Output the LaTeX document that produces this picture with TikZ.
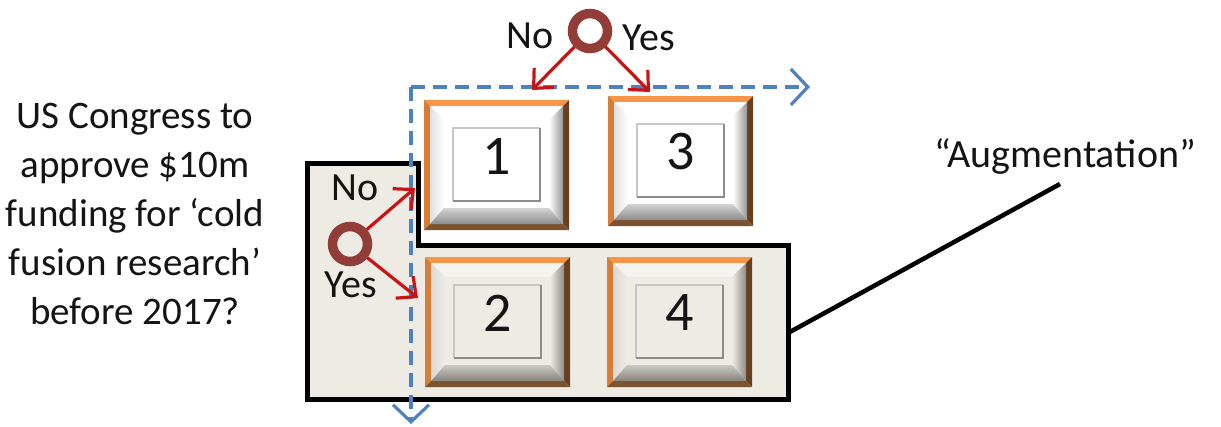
\documentclass[tikz,border=0pt]{standalone}
\usepackage{fontspec}
\setmainfont{Carlito}
\usetikzlibrary{arrows.meta,calc}
\definecolor{beige}{RGB}{238,235,228}
\definecolor{dblue}{RGB}{79,129,189}
\definecolor{ared}{RGB}{200,20,20}
\definecolor{ring}{RGB}{146,61,56}
\definecolor{frtop}{RGB}{247,150,70}
\definecolor{frleft}{RGB}{214,126,56}
\definecolor{frright}{RGB}{104,64,32}
\definecolor{frbot}{RGB}{122,82,48}
\definecolor{txt}{RGB}{20,20,20}
\definecolor{sidew}{RGB}{200,200,200}
\definecolor{sideb}{RGB}{190,187,180}
\tikzset{
  region/.style={fill=beige, draw=black, line width=5pt, line join=miter},
  dashaxis/.style={draw=dblue, line width=3.2pt, dash pattern=on 14pt off 8pt, -{Straight Barb[length=17pt,width=36pt,line width=3.2pt]}},
  redarrow/.style={draw=ared, line width=3.2pt, -{Straight Barb[length=15pt,width=28pt,line width=3.2pt]}},
  ringnode/.style={circle, draw=ring, line width=9.5pt, minimum size=35pt, inner sep=0pt},
  lbl/.style={font=\fontsize{40}{48}\selectfont, text=txt, inner sep=0pt, anchor=base},
  numtxt/.style={font=\fontsize{56}{60}\selectfont, text=txt, inner sep=0pt},
  boxnode/.style={minimum width=145pt, minimum height=130pt, inner sep=0pt},
}
% #1 name, #2 cx, #3 cy, #4 face colour, #5 side shade colour, #6 label
\newcommand\bevbox[6]{%
\begin{scope}[shift={(#2,#3)}]
  % frame
  \fill[frtop] (-72.5,-65) -- (72.5,-65) -- (66.5,-59) -- (-66.5,-59) -- cycle;
  \fill[frleft] (-72.5,-65) -- (-66.5,-59) -- (-66.5,59) -- (-72.5,65) -- cycle;
  \fill[frright] (72.5,-65) -- (72.5,65) -- (66.5,59) -- (66.5,-59) -- cycle;
  \fill[frbot] (-72.5,65) -- (72.5,65) -- (66.5,59) -- (-66.5,59) -- cycle;
  % bevel
  \fill[#4!60!white] (-66.5,-59) -- (66.5,-59) -- (52.5,-45) -- (-52.5,-45) -- cycle;
  \shade[left color=#5!55!white, right color=#4] (-66.5,-59) -- (-52.5,-45) -- (-52.5,43) -- (-66.5,59) -- cycle;
  \shade[left color=#4, right color=#5!75!black] (66.5,-59) -- (66.5,59) -- (52.5,43) -- (52.5,-45) -- cycle;
  \shade[top color=#5!80!white, bottom color=#5!70!black] (-66.5,59) -- (66.5,59) -- (52.5,43) -- (-52.5,43) -- cycle;
  % face
  \fill[#4] (-52.5,-45) rectangle (52.5,43);
  % inner square
  \draw[line width=1.2pt, black!22] (-43.5,36) -- (-43.5,-37) -- (43.5,-37);
  \draw[line width=1.2pt, black!45] (43.5,-37) -- (43.5,36) -- (-43.5,36);
  \node[boxnode] (#1) at (0,0) {};
  \node[numtxt] (#1l) at (0,-9) {#6};
\end{scope}}
\begin{document}
\begin{tikzpicture}[x=1pt,y=-1pt]
\useasboundingbox (0,0) rectangle (1221,426);
\fill[white] (0,0) rectangle (1221,426);

% beige region
\draw[region] (307,163) -- (418,163) -- (418,245) -- (788,245) -- (788,399) -- (307,399) -- cycle;

% axes
\coordinate (corner) at (411,87);
\coordinate (xend) at (810,87);
\coordinate (yend) at (411,424);
\draw[dashaxis] (corner) -- (xend);
\draw[dashaxis] (corner) -- (yend);

% boxes
\bevbox{b1}{496.5}{165}{white}{sidew}{1}
\bevbox{b3}{680.5}{161}{white}{sidew}{3}
\bevbox{b2}{497.5}{322}{beige}{sideb}{2}
\bevbox{b4}{679.5}{322}{beige}{sideb}{4}

% question text
\node[align=center, font=\fontsize{39}{49}\selectfont, text=txt, inner sep=0pt] (q) at (135,214)
  {US Congress to\\approve \$10m\\funding for ‘cold\\fusion research’\\before 2017?};

% augmentation label and connector
\node[lbl, font=\fontsize{40}{48}\selectfont] (aug) at (1065,167) {“Augmentation”};
\coordinate (regR) at (788,333);
\coordinate (augEnd) at (1060,184);
\draw[line width=4.5pt, black] (regR) -- (augEnd);

% top chooser
\node[ringnode] (c1) at (590,31) {};
\coordinate (t1) at (532,90);
\coordinate (t3) at (650,92);
\draw[redarrow] (c1) -- (t1);
\draw[redarrow] (c1) -- (t3);
\node[lbl] (no1) at (530,48) {No};
\node[lbl] (yes1) at (649,50) {Yes};

% left chooser
\node[ringnode] (c2) at (350,244) {};
\coordinate (t2) at (415,188);
\coordinate (t4) at (418,298);
\draw[redarrow] (c2) -- (t2);
\draw[redarrow] (c2) -- (t4);
\node[lbl] (no2) at (355,200) {No};
\node[lbl] (yes2) at (351,297) {Yes};
\end{tikzpicture}
\end{document}
